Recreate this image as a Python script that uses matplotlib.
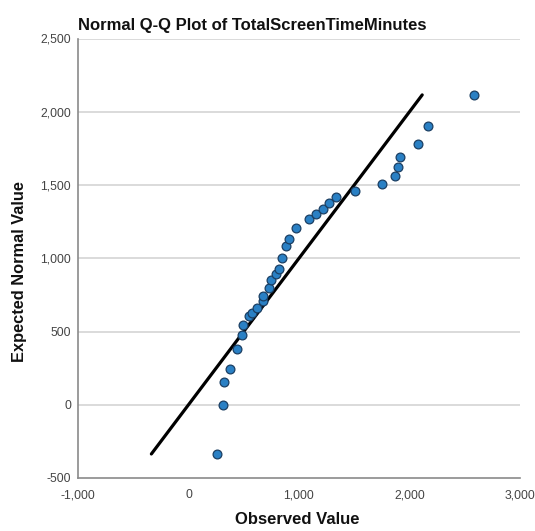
import matplotlib
matplotlib.use("Agg")
import matplotlib.pyplot as plt
from matplotlib.ticker import FuncFormatter

observed = [261, 315, 324, 376, 442, 484, 490, 550, 577, 617, 671, 677, 731,
            744, 792, 822, 849, 882, 912, 973, 1091, 1154, 1214, 1274, 1335,
            1507, 1748, 1869, 1899, 1914, 2074, 2165, 2584]
expected = [-336, 0, 157, 244, 382, 478, 541, 603, 626, 662, 708, 744, 798,
            853, 892, 928, 1005, 1087, 1131, 1206, 1269, 1303, 1337, 1376, 1417,
            1460, 1508, 1560, 1622, 1692, 1780, 1901, 2115]
x_ticks = [-1000, 0, 1000, 2000, 3000]
y_ticks = [-500, 0, 500, 1000, 1500, 2000, 2500]
title = "Normal Q-Q Plot of TotalScreenTimeMinutes"
xlabel = "Observed Value"
ylabel = "Expected Normal Value"

plt.rcParams['font.family'] = ['Liberation Sans', 'DejaVu Sans']

fig = plt.figure(figsize=(5.35, 5.31), dpi=100)
ax = fig.add_axes([78/535, 1 - 478/531, 442/535, 439.5/531])

ax.set_xlim(-1000, 3000)
ax.set_ylim(-500, 2500)
ax.set_xticks(x_ticks)
ax.set_yticks(y_ticks)
fmt = FuncFormatter(lambda v, p: f"{int(v):,}")
ax.xaxis.set_major_formatter(fmt)
ax.yaxis.set_major_formatter(fmt)

for y in y_ticks[1:]:
    ax.axhline(y, color='#d4d4d4', lw=1.2, zorder=1)

lo = min(expected)
hi = max(expected)
ax.plot([lo, hi], [lo, hi], color='black', lw=2.3, zorder=2, solid_capstyle='round')
ax.scatter(observed, expected, s=40, facecolor='#2a80c4', edgecolor='#1b3f63',
           linewidth=0.9, zorder=3)

for s in ['top', 'right']:
    ax.spines[s].set_visible(False)
for s in ['left', 'bottom']:
    ax.spines[s].set_color('#8a8a8a')
    ax.spines[s].set_linewidth(1.2)

ax.tick_params(axis='both', length=0, labelsize=8.8, labelcolor='#444444')
ax.tick_params(axis='x', pad=8)
ax.tick_params(axis='y', pad=5)

fig.text(78/535, 1 - 30/531, title, fontsize=12, fontweight='bold',
         ha='left', va='baseline', color='#111111')
fig.text(20/535, 1 - 272/531, ylabel, fontsize=11.8, fontweight='bold',
         rotation=90, ha='center', va='center', color='#111111')
fig.text(297/535, 1 - 519/531, xlabel, fontsize=12, fontweight='bold',
         ha='center', va='center', color='#111111')

fig.savefig("out.png", dpi=100)
